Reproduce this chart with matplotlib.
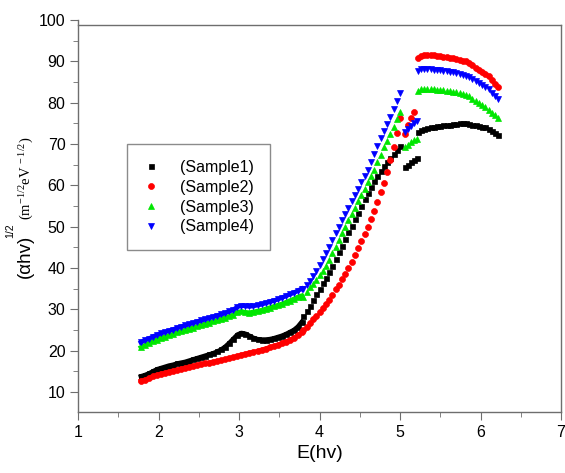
import numpy as np
import matplotlib.pyplot as plt

plt.rcParams['font.family'] = ['Liberation Sans', 'DejaVu Sans']
plt.rcParams['mathtext.fontset'] = 'custom'
plt.rcParams['mathtext.rm'] = 'Liberation Serif'
plt.rcParams['mathtext.it'] = 'Liberation Serif:italic'
plt.rcParams['mathtext.sf'] = 'Liberation Sans'

# photon energy grids (eV)
e_low = [1.78, 1.83, 1.88, 1.93, 1.98, 2.03, 2.08, 2.13, 2.18, 2.23, 2.28,
         2.33, 2.38, 2.43, 2.48, 2.53, 2.58, 2.63, 2.68, 2.73, 2.78, 2.83,
         2.88, 2.93, 2.98, 3.03, 3.08, 3.13, 3.18, 3.23, 3.28, 3.33, 3.38,
         3.43, 3.48, 3.53, 3.58, 3.63, 3.68, 3.73, 3.78]
e_edge = [3.80, 3.84, 3.88, 3.92, 3.96, 4.00, 4.04, 4.08, 4.12, 4.16, 4.20,
          4.24, 4.28, 4.32, 4.36, 4.40, 4.44, 4.48, 4.52, 4.56, 4.60, 4.64,
          4.68, 4.72, 4.76, 4.80, 4.84, 4.88, 4.92, 4.96, 5.00]
e_mid = [5.06, 5.10, 5.14, 5.18, 5.21]
e_top = [5.22, 5.26, 5.30, 5.34, 5.38, 5.42, 5.46, 5.50, 5.54, 5.58, 5.62,
         5.66, 5.70, 5.74, 5.78, 5.82, 5.86, 5.90, 5.94, 5.98, 6.02, 6.06,
         6.10, 6.14, 6.18, 6.22]

# (alpha h v)^1/2 values
s1_low = [13.8, 14.1, 14.5, 15.0, 15.5, 15.8, 16.1, 16.4, 16.6, 16.9, 17.1,
          17.3, 17.6, 17.9, 18.2, 18.5, 18.8, 19.1, 19.4, 19.8, 20.3, 21.0,
          21.9, 22.9, 23.9, 24.3, 24.1, 23.6, 23.1, 22.8, 22.7, 22.7, 22.8,
          23.0, 23.3, 23.6, 24.0, 24.5, 25.0, 25.8, 27.0]
s1_edge = [28.3, 29.6, 30.8, 32.2, 33.6, 35.0, 36.3, 37.7, 39.1, 40.6, 42.2,
           43.8, 45.4, 47.0, 48.6, 50.2, 51.8, 53.4, 55.0, 56.6, 58.1, 59.6,
           61.0, 62.3, 63.5, 64.6, 65.6, 66.6, 67.6, 68.6, 69.6]
s1_mid = [64.4, 65.0, 65.6, 66.2, 66.6]
s1_top = [73.0, 73.4, 73.6, 73.8, 74.0, 74.1, 74.3, 74.4, 74.5, 74.6, 74.7,
          74.8, 74.9, 75.0, 75.0, 75.0, 74.9, 74.7, 74.5, 74.4, 74.2, 74.0,
          73.6, 73.1, 72.6, 72.1]

s2_low = [12.7, 12.9, 13.3, 13.8, 14.1, 14.4, 14.6, 14.9, 15.1, 15.3, 15.6,
          15.8, 16.0, 16.3, 16.5, 16.7, 16.9, 17.1, 17.3, 17.5, 17.7, 17.9,
          18.2, 18.4, 18.7, 19.0, 19.2, 19.5, 19.7, 19.9, 20.2, 20.5, 20.8,
          21.1, 21.4, 21.8, 22.2, 22.6, 23.1, 23.7, 24.4]
s2_edge = [25.0, 25.8, 26.7, 27.6, 28.5, 29.4, 30.3, 31.3, 32.3, 33.5, 34.8,
           36.0, 37.3, 38.6, 40.0, 41.5, 43.2, 44.8, 46.5, 48.3, 50.0, 51.9,
           53.9, 56.0, 58.3, 60.6, 63.2, 66.2, 69.2, 72.6, 76.3]
s2_mid = [72.4, 74.6, 76.4, 77.7]
s2_top = [90.8, 91.3, 91.5, 91.6, 91.6, 91.5, 91.4, 91.3, 91.1, 91.0, 90.8,
          90.7, 90.5, 90.4, 90.2, 90.0, 89.6, 89.0, 88.4, 87.9, 87.4, 86.9,
          86.4, 85.6, 84.6, 83.8]

s3_low = [20.8, 21.3, 21.8, 22.3, 22.7, 23.1, 23.4, 23.7, 24.0, 24.4, 24.7,
          25.0, 25.3, 25.6, 25.9, 26.2, 26.5, 26.8, 27.1, 27.4, 27.7, 28.0,
          28.3, 28.7, 29.3, 29.5, 29.3, 29.2, 29.4, 29.6, 29.8, 30.1, 30.4,
          30.7, 31.0, 31.3, 31.7, 32.1, 32.5, 33.0, 33.3]
s3_edge = [33.0, 34.2, 35.4, 36.2, 37.2, 38.2, 39.3, 40.5, 42.0, 43.6, 45.2,
           46.8, 48.4, 50.0, 51.6, 53.1, 54.6, 56.1, 57.6, 59.2, 60.8, 62.3,
           63.8, 65.6, 67.4, 69.2, 70.8, 72.4, 74.2, 76.0, 77.8]
s3_mid = [69.2, 69.8, 70.4, 70.9, 71.3]
s3_top = [82.8, 83.3, 83.4, 83.4, 83.3, 83.2, 83.1, 83.0, 83.0, 82.9, 82.8,
          82.7, 82.5, 82.3, 82.1, 81.9, 81.6, 81.0, 80.4, 79.9, 79.4, 78.9,
          78.3, 77.6, 76.9, 76.2]

s4_low = [22.0, 22.5, 22.9, 23.4, 23.8, 24.2, 24.5, 24.8, 25.1, 25.5, 25.8,
          26.1, 26.4, 26.7, 27.0, 27.3, 27.6, 27.9, 28.2, 28.5, 28.8, 29.1,
          29.5, 29.9, 30.6, 30.9, 30.8, 30.7, 30.8, 31.0, 31.2, 31.5, 31.8,
          32.1, 32.4, 32.8, 33.2, 33.6, 34.0, 34.5, 35.0]
s4_edge = [35.0, 35.8, 36.8, 38.0, 39.2, 40.8, 42.2, 43.7, 45.2, 46.8, 48.4,
           50.0, 51.6, 53.0, 54.5, 56.1, 57.7, 59.2, 60.8, 62.3, 63.8, 65.7,
           67.6, 69.5, 71.4, 73.2, 74.8, 76.6, 78.5, 80.4, 82.3]
s4_mid = [72.8, 73.6, 74.3, 75.0, 75.5]
s4_top = [87.7, 88.1, 88.2, 88.2, 88.1, 88.0, 87.9, 87.8, 87.7, 87.6, 87.5,
          87.3, 87.1, 86.9, 86.7, 86.5, 86.2, 85.7, 85.2, 84.7, 84.2, 83.7,
          83.2, 82.4, 81.6, 80.8]

labels = ['(Sample1)', '(Sample2)', '(Sample3)', '(Sample4)']

series = [
    (s1_low, e_edge + e_mid + e_top, s1_edge + s1_mid + s1_top, 's', 3.6, '#000000'),
    (s2_low, e_edge + e_mid[:4] + e_top, s2_edge + s2_mid + s2_top, 'o', 4.3, '#ff0000'),
    (s3_low, e_edge + e_mid + e_top, s3_edge + s3_mid + s3_top, '^', 4.6, '#00e600'),
    (s4_low, e_edge + e_mid + e_top, s4_edge + s4_mid + s4_top, 'v', 4.6, '#0000ff'),
]

fig = plt.figure(figsize=(5.65, 4.73), dpi=100)
ax = fig.add_axes([78 / 565, 1 - 412 / 473, (561 - 78) / 565, (412 - 20) / 473])

handles = []
for (ylow, xh, yh, m, ms, c), lab in zip(series, labels):
    # dense low-energy part: points merge into a band
    ax.plot(e_low, ylow, ls='-', lw=3.2, color=c, marker=m, ms=ms, mfc=c, mec=c, mew=0.5)
    h, = ax.plot(xh, yh, ls='none', marker=m, ms=ms, mfc=c, mec=c, mew=0.5, label=lab)
    handles.append(h)

ax.set_xlim(1, 7)
ax.set_ylim(5.16, 100)
ax.set_xticks(np.arange(1, 8, 1))
ax.set_xticks(np.arange(1.5, 7, 1), minor=True)
ax.set_yticks(np.arange(10, 101, 10))
ax.set_yticks(np.arange(15, 100, 10), minor=True)

frame = '#6e6e6e'
for side in ['left', 'bottom', 'top', 'right']:
    ax.spines[side].set_color(frame)
    ax.spines[side].set_linewidth(1.0)
ax.spines['top'].set_position(('data', 98.8))
ax.spines['right'].set_bounds(5.16, 98.8)
ax.tick_params(which='both', direction='out', color=frame, labelsize=11.5,
               top=False, right=False, pad=3)
ax.tick_params(which='major', length=6)
ax.tick_params(which='minor', length=3.5)

ax.set_xlabel('E(hv)', fontsize=14, labelpad=4)

fig.text(25 / 565, 1 - 278 / 473, '(αhv)', rotation=90,
         fontsize=13.5, ha='center', va='bottom')
fig.text(10 / 565, 1 - 238 / 473, '1/2', rotation=90,
         fontsize=7.5, ha='center', va='bottom')
fig.text(27 / 565, 1 - 220 / 473, r'$\mathrm{(m^{-1/2}eV^{\ -1/2})}$', rotation=90,
         fontsize=10.5, ha='center', va='bottom')

leg = ax.legend(handles=handles, loc='upper left',
                bbox_to_anchor=(127 / 565, 1 - 144 / 473),
                bbox_transform=fig.transFigure, borderaxespad=0, fontsize=11.5,
                fancybox=False, edgecolor=frame, handlelength=1.0,
                handletextpad=1.3, borderpad=1.0, labelspacing=0.3)
leg.get_frame().set_linewidth(1.0)

plt.savefig('out.png', dpi=100)
